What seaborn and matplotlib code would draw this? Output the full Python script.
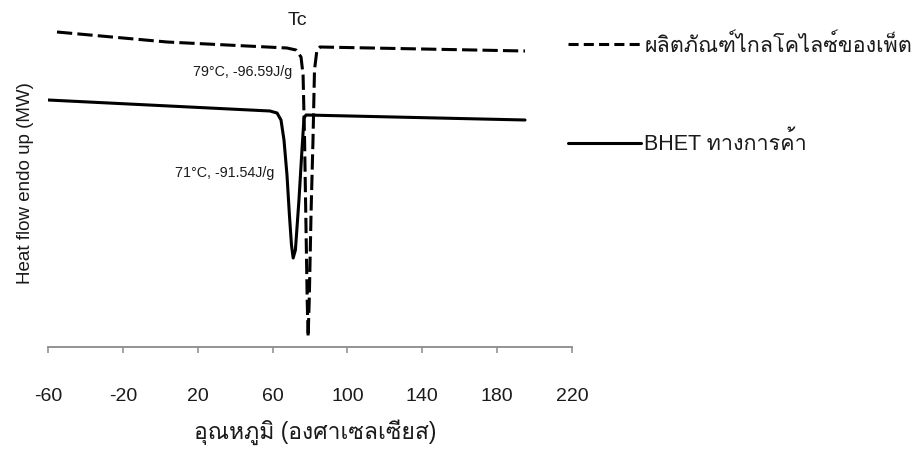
import matplotlib
matplotlib.use("Agg")
import matplotlib.pyplot as plt
from matplotlib.lines import Line2D
import seaborn as sns
import pandas as pd

# DSC cooling traces (temperature in °C, heat flow in arbitrary mW units)
glyco_label = "ผลิตภัณฑ์ไกลโคไลซ์ของเพ็ต"
bhet_label = "BHET ทางการค้า"

glyco_temp = [-55.2, 3.6, 67.7, 72.5, 75.2, 76.3, 77.1, 77.8, 78.5, 79.0,
              79.6, 80.6, 81.6, 82.4, 83.7, 85.3, 194.9]
glyco_flow = [31.5, 30.5, 29.9, 29.7, 29.0, 27.2, 20.7, 12.7, 4.7, 1.0,
              4.7, 13.7, 20.7, 27.7, 29.7, 30.0, 29.6]

bhet_temp = [-60.0, 58.6, 62.4, 64.5, 66.1, 67.7, 69.0, 70.1, 71.0, 72.2,
             74.1, 75.7, 76.8, 77.9, 194.9]
bhet_flow = [24.7, 23.6, 23.4, 22.7, 20.7, 17.2, 13.2, 10.2, 8.9, 9.7,
             14.7, 19.7, 22.9, 23.2, 22.7]

x_ticks = [-60, -20, 20, 60, 100, 140, 180, 220]

peak_notes = ["79°C, -96.59J/g", "71°C, -91.54J/g"]

df = pd.concat([
    pd.DataFrame({"temp": glyco_temp, "flow": glyco_flow, "sample": glyco_label}),
    pd.DataFrame({"temp": bhet_temp, "flow": bhet_flow, "sample": bhet_label}),
], ignore_index=True)

sns.set_style("white")
plt.rcParams["font.family"] = ["Liberation Sans", "Loma", "DejaVu Sans"]

W, H = 918, 463
fig = plt.figure(figsize=(W / 100, H / 100), dpi=100)
ax = fig.add_axes([48 / W, 116 / H, 524 / W, 337 / H])

ink = "#1a1a1a"
grey = "#8a8a8a"
lw = 2.2

sns.lineplot(
    data=df, x="temp", y="flow", style="sample",
    style_order=[glyco_label, bhet_label],
    dashes={glyco_label: (5, 1.7), bhet_label: ""},
    color="black", linewidth=lw, estimator=None, sort=False,
    legend=False, ax=ax,
)

ax.set_xlim(-60, 220)
ax.set_ylim(0, 33.7)
ax.set_xticks(x_ticks)
ax.set_xticklabels([str(t) for t in x_ticks])
ax.set_yticks([])

for side in ("top", "right", "left"):
    ax.spines[side].set_visible(False)
ax.spines["bottom"].set_color(grey)
ax.spines["bottom"].set_linewidth(1.3)
ax.tick_params(axis="x", bottom=True, direction="out", length=4.5, width=1.1,
               color=grey, pad=25, labelsize=14, labelcolor=ink)

ax.set_xlabel("อุณหภูมิ (องศาเซลเซียส)", fontsize=16.5, color=ink)
ax.xaxis.set_label_coords(0.51, -0.215)
ax.set_ylabel("Heat flow endo up (MW)", fontsize=13.5, color=ink)
ax.yaxis.set_label_coords(-0.026, 0.485)

# peak annotations
ax.text(73.1, 32.7, "Tc", fontsize=14, color=ink, ha="center", va="center",
        clip_on=False)
ax.text(70.4, 27.5, peak_notes[0], fontsize=10.3, color=ink, ha="right",
        va="center")
ax.text(60.8, 17.4, peak_notes[1], fontsize=10.3, color=ink, ha="right",
        va="center")

handles = [
    Line2D([], [], color="black", linewidth=lw, dashes=(3.3, 1.7)),
    Line2D([], [], color="black", linewidth=lw),
]
fig.legend(
    handles, [glyco_label, bhet_label],
    loc="upper left", bbox_to_anchor=(568 / W, 1 - 34 / H),
    bbox_transform=fig.transFigure, frameon=False, fontsize=15.5,
    handlelength=3.4, handletextpad=0.15, labelspacing=3.5,
    borderpad=0, borderaxespad=0, labelcolor=ink,
)

fig.savefig("out.png", dpi=100)
